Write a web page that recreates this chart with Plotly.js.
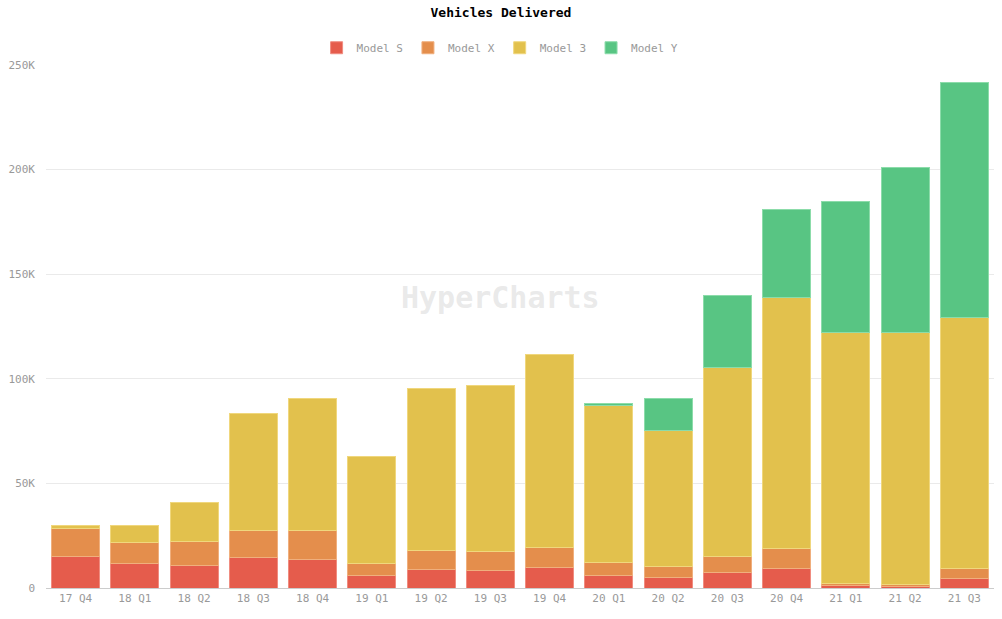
<!DOCTYPE html>
<html>
<head>
<meta charset="utf-8">
<script src="https://cdn.plot.ly/plotly-3.0.1.min.js"></script>
<style>
  html, body { margin: 0; padding: 0; background: #fff; }
  #chart { width: 1002px; height: 619px; }
</style>
</head>
<body>
<div id="chart"></div>
<script>
// quarters
var quarters = ['17 Q4', '18 Q1', '18 Q2', '18 Q3', '18 Q4', '19 Q1', '19 Q2', '19 Q3',
  '19 Q4', '20 Q1', '20 Q2', '20 Q3', '20 Q4', '21 Q1', '21 Q2', '21 Q3'];

// deliveries per model (Model Y not sold before 20 Q1)
var modelS = [15200, 11730, 10930, 14470, 13500, 5900, 8800, 8600, 9700, 5900, 5100, 7500, 9400, 1000, 900, 4400];
var modelX = [13120, 10070, 11370, 13190, 14050, 6000, 8900, 8800, 9600, 6100, 5400, 7700, 9400, 1000, 1000, 4700];
var model3 = [1550, 8180, 18440, 55840, 63150, 50900, 77550, 79600, 92550, 75400, 65000, 90400, 120300, 120000, 120000, 120400];
var modelY = [null, null, null, null, null, null, null, null, null, 900, 15100, 34000, 41600, 62700, 79300, 111900];

var yTicks = [0, 50000, 100000, 150000, 200000, 250000];
var yTickText = ['0', '50K', '100K', '150K', '200K', '250K'];

var mono = 'DejaVu Sans Mono, monospace';

function series(name, values, color, edge) {
  return {
    type: 'bar',
    name: name,
    x: quarters,
    y: values,
    marker: {
      color: color,
      line: { color: edge, width: 1 }
    }
  };
}

var data = [
  series('Model S', modelS, 'rgb(229,92,76)', 'rgb(240,140,128)'),
  series('Model X', modelX, 'rgb(228,142,76)', 'rgb(240,175,125)'),
  series('Model 3', model3, 'rgb(226,193,77)', 'rgb(240,215,125)'),
  series('Model Y', modelY, 'rgb(88,197,131)', 'rgb(140,220,170)')
];

var layout = {
  width: 1002,
  height: 619,
  margin: { l: 46, r: 8, t: 65, b: 31 },
  paper_bgcolor: '#fff',
  plot_bgcolor: '#fff',
  barmode: 'stack',
  bargap: 0.19,
  font: { family: mono, size: 11, color: '#999' },
  title: {
    text: '<b>Vehicles Delivered</b>',
    font: { family: mono, size: 13, color: '#000' },
    x: 0.5,
    xanchor: 'center',
    y: 0.988,
    yanchor: 'top'
  },
  legend: {
    orientation: 'h',
    x: 0.479,
    xref: 'paper',
    xanchor: 'center',
    y: 1.033,
    yanchor: 'middle',
    font: { family: mono, size: 11, color: '#999' },
    itemwidth: 30,
    traceorder: 'normal'
  },
  xaxis: {
    showgrid: false,
    showline: true,
    linecolor: '#ccc',
    linewidth: 1,
    ticks: '',
    tickfont: { family: mono, size: 11, color: '#999' }
  },
  yaxis: {
    range: [0, 250000],
    tickvals: yTicks,
    ticktext: yTickText,
    showgrid: true,
    gridcolor: '#eaeaea',
    zeroline: false,
    showline: false,
    ticks: '',
    ticklabelstandoff: 10,
    tickfont: { family: mono, size: 11, color: '#999' }
  },
  annotations: [{
    text: '<b>HyperCharts</b>',
    xref: 'paper',
    yref: 'paper',
    x: 0.479,
    y: 0.555,
    showarrow: false,
    font: { family: mono, size: 30, color: 'rgba(200,200,200,0.4)' }
  }]
};

Plotly.newPlot('chart', data, layout, { displayModeBar: false, staticPlot: true });
</script>
</body>
</html>
